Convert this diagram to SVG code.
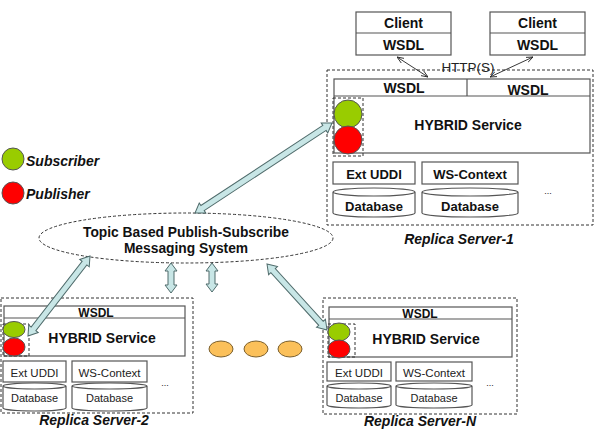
<svg xmlns="http://www.w3.org/2000/svg" width="595" height="434" viewBox="0 0 595 434">
<defs>
<style>
.box{fill:#fff;stroke:#555;stroke-width:1.2}
.dash{fill:none;stroke:#333;stroke-width:1;stroke-dasharray:3,2}
.b{font-family:"Liberation Sans",Arial,sans-serif;font-weight:bold;fill:#111;text-anchor:middle}
.r{font-family:"Liberation Sans",Arial,sans-serif;fill:#222;text-anchor:middle}
.bi{font-family:"Liberation Sans",Arial,sans-serif;font-weight:bold;font-style:italic;fill:#111}
.sub{fill:#99cc00;stroke:#555;stroke-width:1}
.pub{fill:#ff0000;stroke:#555;stroke-width:1}
.dot{fill:#fbc05a;stroke:#7a6030;stroke-width:1}
.blk{fill:#c8e6e6;stroke:#4f6b6b;stroke-width:1}
.thin{stroke:#222;stroke-width:0.9;fill:none;marker-start:url(#ah);marker-end:url(#ah)}
</style>
<marker id="ah" viewBox="0 0 10 10" refX="10" refY="5" markerWidth="7" markerHeight="7" orient="auto-start-reverse" markerUnits="userSpaceOnUse">
<path d="M0,1 L10,5 L0,9" fill="none" stroke="#222" stroke-width="1.2"/>
</marker>
</defs>

<g id="legend">
<circle class="sub" cx="13" cy="159" r="11"/>
<text class="bi" x="26" y="166" font-size="14">Subscriber</text>
<circle class="pub" cx="13" cy="193" r="11"/>
<text class="bi" x="26" y="199" font-size="14">Publisher</text>
</g>

<g id="client-1">
<rect class="box" x="356" y="12" width="95" height="43"/>
<line x1="356" y1="33" x2="451" y2="33" stroke="#555" stroke-width="1.2"/>
<text class="b" x="403.5" y="28" font-size="14">Client</text>
<text class="b" x="403.5" y="50" font-size="14">WSDL</text>
</g>
<g id="client-2">
<rect class="box" x="490" y="12" width="95" height="43"/>
<line x1="490" y1="33" x2="585" y2="33" stroke="#555" stroke-width="1.2"/>
<text class="b" x="537.5" y="28" font-size="14">Client</text>
<text class="b" x="537.5" y="50" font-size="14">WSDL</text>
</g>

<g id="replica-server-1">
<rect class="dash" x="327" y="70" width="266" height="155"/>
<rect class="box" x="334" y="79" width="256" height="74"/>
<line x1="334" y1="96" x2="590" y2="96" stroke="#555" stroke-width="1.2"/>
<line x1="467" y1="79" x2="467" y2="96" stroke="#555" stroke-width="1.2"/>
<text class="b" x="404" y="93" font-size="14">WSDL</text>
<text class="b" x="528" y="95" font-size="14">WSDL</text>
<text class="b" x="468" y="130" font-size="14">HYBRID Service</text>
<rect class="dash" x="333" y="98" width="30" height="58"/>
<circle class="sub" cx="348" cy="114" r="14"/>
<circle class="pub" cx="348" cy="140" r="14"/>
<rect class="box" x="333" y="162" width="82" height="22"/>
<text class="b" x="374" y="179" font-size="13">Ext UDDI</text>
<rect class="box" x="422" y="162" width="96" height="22"/>
<text class="b" x="470" y="179" font-size="13">WS-Context</text>
<path class="box" d="M333,192 A41,4 0 0 1 415,192 A41,4 0 0 1 333,192 L333,213 A41,4 0 0 0 415,213 L415,192"/>
<text class="b" x="374" y="211" font-size="13">Database</text>
<path class="box" d="M422,192 A48,4 0 0 1 518,192 A48,4 0 0 1 422,192 L422,213 A48,4 0 0 0 518,213 L518,192"/>
<text class="b" x="470" y="211" font-size="13">Database</text>
<text class="r" x="548" y="194" font-size="9">...</text>
<text class="bi" x="459" y="244" font-size="14" text-anchor="middle">Replica Server-1</text>
</g>

<g id="messaging-system">
<ellipse class="dash" cx="186" cy="238" rx="147" ry="25"/>
<text class="b" x="186" y="237" font-size="13.8">Topic Based Publish-Subscribe</text>
<text class="b" x="186" y="253" font-size="13.8">Messaging System</text>
</g>

<g id="replica-server-2">
<rect class="dash" x="1" y="298" width="192" height="115"/>
<rect class="box" x="4" y="306" width="181" height="50"/>
<line x1="4" y1="318" x2="185" y2="318" stroke="#555" stroke-width="1.2"/>
<text class="b" x="96" y="317" font-size="12">WSDL</text>
<text class="b" x="102" y="343" font-size="14">HYBRID Service</text>
<rect class="dash" x="3" y="324" width="26" height="32"/>
<ellipse class="sub" cx="14" cy="329.5" rx="11" ry="8"/>
<ellipse class="pub" cx="14" cy="347" rx="11" ry="9"/>
<rect class="box" x="3" y="361" width="63" height="21"/>
<text class="r" x="34.5" y="377" font-size="11.5">Ext UDDI</text>
<rect class="box" x="72" y="361" width="75" height="21"/>
<text class="r" x="109.5" y="377" font-size="11.5">WS-Context</text>
<path class="box" d="M3,386 A31.5,3 0 0 1 66,386 A31.5,3 0 0 1 3,386 L3,408 A31.5,3 0 0 0 66,408 L66,386"/>
<text class="r" x="34.5" y="402" font-size="11">Database</text>
<path class="box" d="M72,386 A37.5,3 0 0 1 147,386 A37.5,3 0 0 1 72,386 L72,408 A37.5,3 0 0 0 147,408 L147,386"/>
<text class="r" x="109.5" y="402" font-size="11">Database</text>
<text class="r" x="165" y="386" font-size="9">...</text>
<text class="bi" x="94" y="425" font-size="14" text-anchor="middle">Replica Server-2</text>
</g>

<g id="more-servers">
<ellipse class="dot" cx="221" cy="349" rx="12" ry="8"/>
<ellipse class="dot" cx="256" cy="349" rx="12" ry="8"/>
<ellipse class="dot" cx="290" cy="349" rx="12" ry="8"/>
</g>

<g id="replica-server-n">
<rect class="dash" x="323" y="298" width="194" height="116"/>
<rect class="box" x="329" y="307" width="183" height="50"/>
<line x1="329" y1="319" x2="512" y2="319" stroke="#555" stroke-width="1.2"/>
<text class="b" x="420" y="318" font-size="12">WSDL</text>
<text class="b" x="426" y="344" font-size="14">HYBRID Service</text>
<rect class="dash" x="328" y="324" width="27" height="33"/>
<ellipse class="sub" cx="339" cy="332" rx="11" ry="9"/>
<ellipse class="pub" cx="339" cy="349" rx="11" ry="9"/>
<rect class="box" x="327" y="362" width="64" height="19"/>
<text class="r" x="359" y="377" font-size="11.5">Ext UDDI</text>
<rect class="box" x="396" y="362" width="76" height="19"/>
<text class="r" x="434" y="377" font-size="11.5">WS-Context</text>
<path class="box" d="M327,386 A32,3 0 0 1 391,386 A32,3 0 0 1 327,386 L327,405 A32,3 0 0 0 391,405 L391,386"/>
<text class="r" x="359" y="402" font-size="11">Database</text>
<path class="box" d="M396,386 A38,3 0 0 1 472,386 A38,3 0 0 1 396,386 L396,405 A38,3 0 0 0 472,405 L472,386"/>
<text class="r" x="434" y="402" font-size="11">Database</text>
<text class="r" x="490" y="386" font-size="9">...</text>
<text class="bi" x="420" y="426" font-size="14" text-anchor="middle">Replica Server-N</text>
</g>

<g id="connectors">
<line class="thin" x1="397" y1="57" x2="428" y2="77"/>
<line class="thin" x1="533" y1="57" x2="490" y2="77"/>
<text class="r" x="468" y="72" font-size="13.5" fill="#444">HTTP(S)</text>
<polygon class="blk" transform="translate(332,123) rotate(146.7)" points="0,0 9,-6 9,-3 154.9,-3 154.9,-6 163.9,0 154.9,6 154.9,3 9,3 9,6"/>
<polygon class="blk" transform="translate(90,256) rotate(127.8)" points="0,0 9,-6 9,-3 92.2,-3 92.2,-6 101.2,0 92.2,6 92.2,3 9,3 9,6"/>
<polygon class="blk" transform="translate(267,264) rotate(47.7)" points="0,0 9,-6 9,-3 80.2,-3 80.2,-6 89.2,0 80.2,6 80.2,3 9,3 9,6"/>
<polygon class="blk" transform="translate(171,263) rotate(90)" points="0,0 8,-6 8,-3 22,-3 22,-6 30,0 22,6 22,3 8,3 8,6"/>
<polygon class="blk" transform="translate(212,263) rotate(90)" points="0,0 8,-6 8,-3 21,-3 21,-6 29,0 21,6 21,3 8,3 8,6"/>
</g>
</svg>
